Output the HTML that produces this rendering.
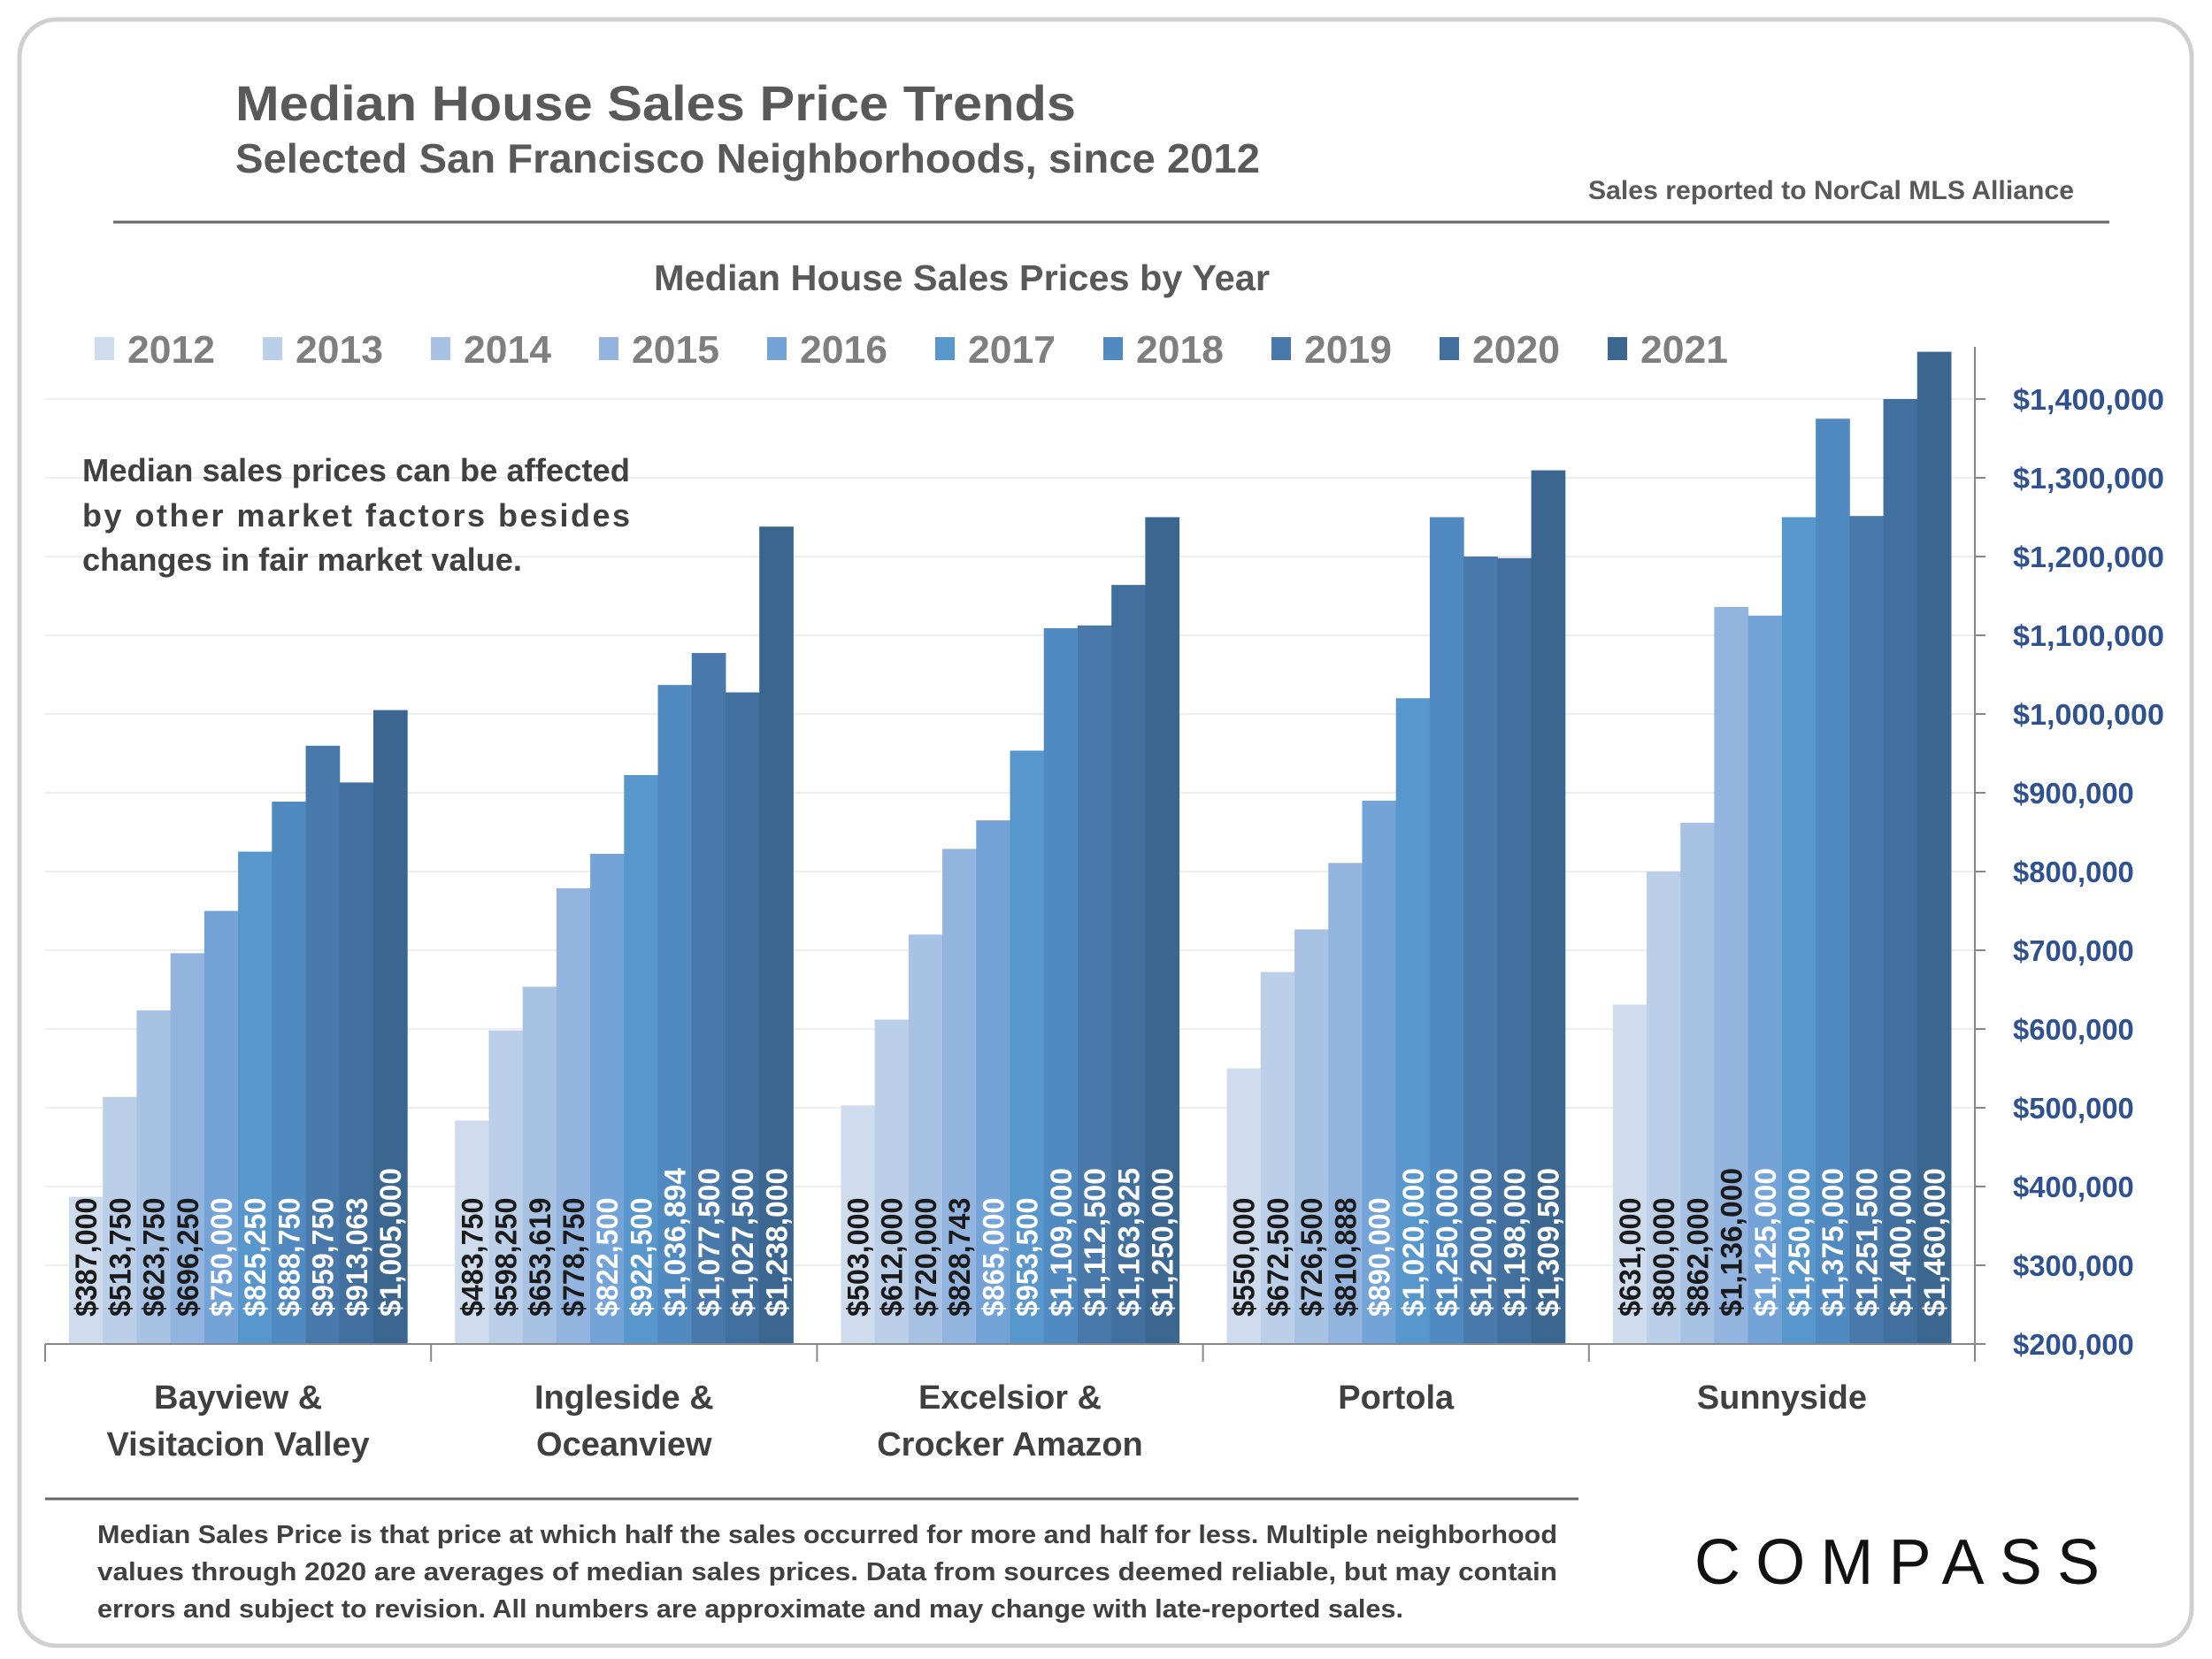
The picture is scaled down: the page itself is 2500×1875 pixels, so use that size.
<!DOCTYPE html>
<html><head><meta charset="utf-8"><style>
html,body{margin:0;padding:0;background:#fff}
svg{display:block}
text{font-family:"Liberation Sans",sans-serif;font-weight:bold}
</style></head><body>
<svg id="chart" width="2500" height="1875" viewBox="0 0 2500 1875" xmlns="http://www.w3.org/2000/svg">
<rect x="22" y="22" width="2455" height="1838" rx="42" fill="#fff" stroke="#cfcfcf" stroke-width="5"/>
<text x="266" y="136" font-size="56" fill="#595959" textLength="950" lengthAdjust="spacingAndGlyphs">Median House Sales Price Trends</text>
<text x="266" y="195" font-size="46" fill="#595959" textLength="1158" lengthAdjust="spacingAndGlyphs">Selected San Francisco Neighborhoods, since 2012</text>
<text x="1795" y="225" font-size="30" fill="#595959" textLength="549" lengthAdjust="spacingAndGlyphs">Sales reported to NorCal MLS Alliance</text>
<line x1="128" y1="251" x2="2384" y2="251" stroke="#666" stroke-width="3"/>
<text x="739" y="328" font-size="41" fill="#595959" textLength="696" lengthAdjust="spacingAndGlyphs">Median House Sales Prices by Year</text>
<g id="grid"></g>
<g id="legend"></g>
<g id="bars"></g>
<g id="yaxis"></g>
<g id="cats"></g>
<text font-size="36" fill="#404040">
<tspan x="93" y="544" textLength="619" lengthAdjust="spacingAndGlyphs">Median sales prices can be affected</tspan>
<tspan x="93" y="595" textLength="619" lengthAdjust="spacing">by other market factors besides</tspan>
<tspan x="93" y="645" textLength="497" lengthAdjust="spacingAndGlyphs">changes in fair market value.</tspan>
</text>
<line x1="51" y1="1694" x2="1784" y2="1694" stroke="#666" stroke-width="3"/>
<text font-size="29" fill="#404040">
<tspan x="110" y="1744" textLength="1650" lengthAdjust="spacingAndGlyphs">Median Sales Price is that price at which half the sales occurred for more and half for less. Multiple neighborhood</tspan>
<tspan x="110" y="1786" textLength="1650" lengthAdjust="spacingAndGlyphs">values through 2020 are averages of median sales prices. Data from sources deemed reliable, but may contain</tspan>
<tspan x="110" y="1828" textLength="1476" lengthAdjust="spacingAndGlyphs">errors and subject to revision.  All numbers are approximate and may change with late-reported sales.</tspan>
</text>
<text x="1915" y="1790" font-size="72" fill="#111" style="font-weight:normal" textLength="458" lengthAdjust="spacing">COMPASS</text>
</svg>
<script>
const years = ['2012','2013','2014','2015','2016','2017','2018','2019','2020','2021'];
const neighborhoods = [['Bayview &','Visitacion Valley'],['Ingleside &','Oceanview'],['Excelsior &','Crocker Amazon'],['Portola'],['Sunnyside']];
const bayview = [387000,513750,623750,696250,750000,825250,888750,959750,913063,1005000];
const ingleside = [483750,598250,653619,778750,822500,922500,1036894,1077500,1027500,1238000];
const excelsior = [503000,612000,720000,828743,865000,953500,1109000,1112500,1163925,1250000];
const portola = [550000,672500,726500,810888,890000,1020000,1250000,1200000,1198000,1309500];
const sunnyside = [631000,800000,862000,1136000,1125000,1250000,1375000,1251500,1400000,1460000];
const yTicks = [200000,300000,400000,500000,600000,700000,800000,900000,1000000,1100000,1200000,1300000,1400000];
const series = [bayview,ingleside,excelsior,portola,sunnyside];
const colors = ['#cfdcee','#bccfe9','#a8c2e4','#92b4de','#74a4d7','#5797cc','#5189c1','#4979aa','#41709e','#3a6690'];
const NS='http://www.w3.org/2000/svg';
const X0=51,X1=2232,Y0=1519,PX=0.00089;
const yScale=v=>Y0-(v-200000)*PX;
const gW=(X1-X0)/5,pad=27,bW=(gW-2*pad)/10;
function mk(tag,attrs,parent){const e=document.createElementNS(NS,tag);for(const k in attrs)e.setAttribute(k,attrs[k]);parent.appendChild(e);return e;}
const fmt=v=>'$'+v.toLocaleString('en-US');
const grid=document.getElementById('grid'),ya=document.getElementById('yaxis');
yTicks.forEach(t=>{
  const y=yScale(t);
  if(t>200000){const g=mk('line',{x1:X0,x2:X1,y1:y,y2:y,stroke:'#eeeeee','stroke-width':2},grid);
  
  }
  const tk=mk('line',{x1:X1,x2:X1+12,y1:y,y2:y,stroke:'#888','stroke-width':2},ya);
  
  
  const s=fmt(t);
  const tx=mk('text',{x:2275,y:y+12,'font-size':33,fill:'#2f528f',textLength:(17.1*s.length).toFixed(1),lengthAdjust:'spacingAndGlyphs'},ya);
  tx.textContent=s;
  
  
});
const ax=mk('line',{x1:X1,x2:X1,y1:392,y2:1533,stroke:'#888','stroke-width':2},ya);


const xa=mk('line',{x1:X0,x2:X1,y1:Y0,y2:Y0,stroke:'#888','stroke-width':2},ya);


for(let i=0;i<=5;i++){const x=X0+i*gW;const t=mk('line',{x1:x,x2:x,y1:Y0,y2:Y0+20,stroke:'#888','stroke-width':2},ya);

}
const lg=document.getElementById('legend');
years.forEach((yr,i)=>{
  const x=107+i*190;
  const r=mk('rect',{x:x,y:381,width:22,height:26,fill:colors[i]},lg);
  
  
  const t=mk('text',{x:x+37,y:410,'font-size':44,fill:'#7f7f7f',textLength:99,lengthAdjust:'spacingAndGlyphs'},lg);
  t.textContent=yr;
  
  
});
const bg=document.getElementById('bars'),cg=document.getElementById('cats');
series.forEach((vals,g)=>{
  vals.forEach((v,i)=>{
    const x=X0+g*gW+pad+i*bW,y=yScale(v);
    const r=mk('rect',{x:x,y:y,width:bW+0.5,height:Y0-y,fill:colors[i]},bg);
    
    
    const cx=x+bW/2+12,by=1488;
    const s=fmt(v);
    const t=mk('text',{x:cx,y:by,'font-size':34,fill:i<4?'#1a1a1a':'#ffffff',textLength:(16.8*s.length).toFixed(1),lengthAdjust:'spacingAndGlyphs',transform:`rotate(-90 ${cx} ${by})`},bg);
    t.textContent=s;
    
    
  });
  const cx=X0+g*gW+gW/2;
  neighborhoods[g].forEach((ln,k)=>{
    const t=mk('text',{x:cx,y:1592+k*53,'font-size':38,fill:'#404040','text-anchor':'middle'},cg);
    t.textContent=ln;
    
    
  });
});
</script>
</body></html>
